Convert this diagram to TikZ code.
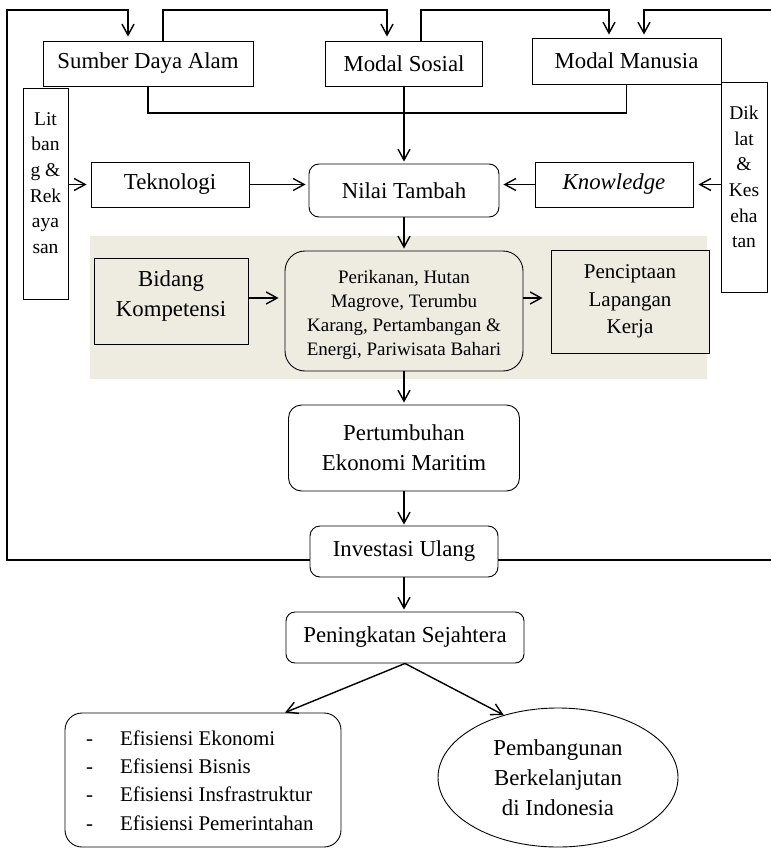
\documentclass[tikz,border=0pt]{standalone}
\usepackage{fontspec}
\setmainfont{Liberation Serif}[Ligatures={TeX,CommonOff}]
\usetikzlibrary{arrows.meta,shapes.geometric}
\definecolor{bandfill}{HTML}{EEECE1}
\newcommand\fsMain{\fontsize{22.8pt}{30pt}\selectfont}
\newcommand\fsSide{\fontsize{19.5pt}{25.7pt}\selectfont}
\newcommand\fsSmall{\fontsize{19pt}{24.3pt}\selectfont}
\newcommand\fsPen{\fontsize{21pt}{27.5pt}\selectfont}
\newcommand\fsEff{\fontsize{20.9pt}{28.4pt}\selectfont}
\begin{document}
\begin{tikzpicture}[x=1pt,y=-1pt,
  box/.style={draw, line width=0.9pt, fill=white, inner sep=0pt, align=center, font=\fsMain},
  rbox/.style={box, rounded corners=10pt},
  txt/.style={inner sep=0pt, align=center},
  conn/.style={line width=1.4pt},
  arr/.style={conn, -{Straight Barb[length=11pt,width=12pt]}}]
\useasboundingbox (0,0) rectangle (771,848);

% shaded band behind the competence row
\node[fill=bandfill, inner sep=0pt, minimum width=617pt, minimum height=143pt] (band) at (398.5,307.5) {};

% capital inputs
\node[box, minimum width=210pt, minimum height=45pt] (sda) at (148,63.5) {Sumber Daya Alam};
\node[box, minimum width=157pt, minimum height=45pt] (ms) at (404,63.5) {Modal Sosial};
\node[box, minimum width=189pt, minimum height=46pt] (mm) at (626.5,61) {Modal Manusia};

% side boxes
\node[box, minimum width=45pt, minimum height=211pt] (lit) at (45.5,193.5) {};
\node[txt, font=\fsSide] (littxt) at (45.5,183) {Lit\\ban\\g \&\\Rek\\aya\\san};
\node[box, minimum width=46pt, minimum height=210pt] (dik) at (744,187) {};
\node[txt, font=\fsSide] (diktxt) at (744,177) {Dik\\lat\\\&\\Kes\\eha\\tan};

% value-added row
\node[box, minimum width=158pt, minimum height=45pt] (tek) at (170,184.5) {Teknologi};
\node[rbox, minimum width=190pt, minimum height=53pt] (nt) at (404,190.5) {Nilai Tambah};
\node[box, minimum width=158pt, minimum height=45pt] (kn) at (614,184.5) {\textit{Knowledge}};

% competence row
\node[box, fill=bandfill, minimum width=154pt, minimum height=86pt] (bid) at (171,301) {};
\node[txt, font=\fsMain] (bidtxt) at (171,296) {Bidang\\Kompetensi};
\node[box, fill=bandfill, rounded corners=20pt, minimum width=238pt, minimum height=120pt] (per) at (404,311) {};
\node[txt, font=\fsSmall] (pertxt) at (404,315)
  {Perikanan, Hutan\\Magrove, Terumbu\\Karang, Pertambangan \&\\Energi, Pariwisata Bahari};
\node[box, fill=bandfill, minimum width=158pt, minimum height=103pt, font=\fsPen] (pen) at (630,301.5) {Penciptaan\\Lapangan\\Kerja};

% growth chain
\node[rbox, rounded corners=13pt, minimum width=231pt, minimum height=86pt] (pe) at (404,448) {Pertumbuhan\\Ekonomi Maritim};
\node[rbox, minimum width=188pt, minimum height=51pt] (inv) at (404,551.5) {Investasi Ulang};
\node[rbox, rounded corners=9pt, minimum width=238pt, minimum height=51pt] (ps) at (405,637.5) {Peningkatan Sejahtera};

% outcomes
\node[box, rounded corners=17pt, minimum width=276pt, minimum height=134pt] (eff) at (203,780) {};
\node[txt, anchor=west, align=left, font=\fsEff] (efftxt) at (86,780.5)
  {\makebox[34pt][l]{-}Efisiensi Ekonomi\\
   \makebox[34pt][l]{-}Efisiensi Bisnis\\
   \makebox[34pt][l]{-}Efisiensi Insfrastruktur\\
   \makebox[34pt][l]{-}Efisiensi Pemerintahan};
\node[box, ellipse, minimum width=240pt, minimum height=139pt] (pb) at (558,777.5) {Pembangunan\\Berkelanjutan\\di Indonesia};

% reinvestment loop
\coordinate (topR) at (771,10);
\coordinate (fbL) at (7,560);
\coordinate (fbR) at (771,560);
\coordinate (jy) at (0,113);
\coordinate (a1) at ([xshift=-20pt]sda.north);
\coordinate (a2) at ([xshift=15pt]sda.north);
\coordinate (a3) at ([xshift=-17pt]ms.north);
\coordinate (a4) at ([xshift=17pt]ms.north);
\coordinate (a5) at ([xshift=-17.5pt]mm.north);
\coordinate (a6) at ([xshift=17.5pt]mm.north);
\draw[arr, shorten >=4pt] (inv.west |- fbL) -- (fbL) -- (fbL |- topR) -| (a1);
\draw[arr, shorten >=4pt] (a2) -- (a2 |- topR) -| (a3);
\draw[arr, shorten >=3pt] (a4) -- (a4 |- topR) -| (a5);
\draw[arr, shorten >=3pt] (topR) -| (a6);
\draw[conn] (inv.east |- fbR) -- (fbR);

% inputs into value added
\draw[conn] (sda.south) -- (sda.south |- jy) -- (mm.south |- jy) -- (mm.south);
\draw[arr, shorten >=2pt] (ms.south) -- (nt.north);
\draw[arr, shorten >=4pt] (lit.east |- tek.west) -- (tek.west);
\draw[arr, shorten >=3pt] (tek.east) -- (tek.east -| nt.west);
\draw[arr, shorten >=4pt] (kn.west) -- (kn.west -| nt.east);
\draw[arr, shorten >=5pt] (dik.west |- kn.east) -- (kn.east);

% main flow
\coordinate (cy) at (0,298);
\draw[arr, shorten >=2pt] (nt.south) -- (per.north);
\draw[arr, shorten >=6pt] (bid.east |- cy) -- (per.west |- cy);
\draw[arr, shorten >=8pt] (per.east |- cy) -- (pen.west |- cy);
\draw[arr, shorten >=2pt] (per.south) -- (pe.north);
\draw[arr, shorten >=1pt] (pe.south) -- (inv.north);
\draw[arr, shorten >=2pt] (inv.south) -- (inv.south |- ps.north);
\coordinate (effin) at ([xshift=82pt]eff.north);
\draw[arr] (ps.south) -- (effin);
\draw[arr] (ps.south) -- (pb.131);
\end{tikzpicture}
\end{document}
